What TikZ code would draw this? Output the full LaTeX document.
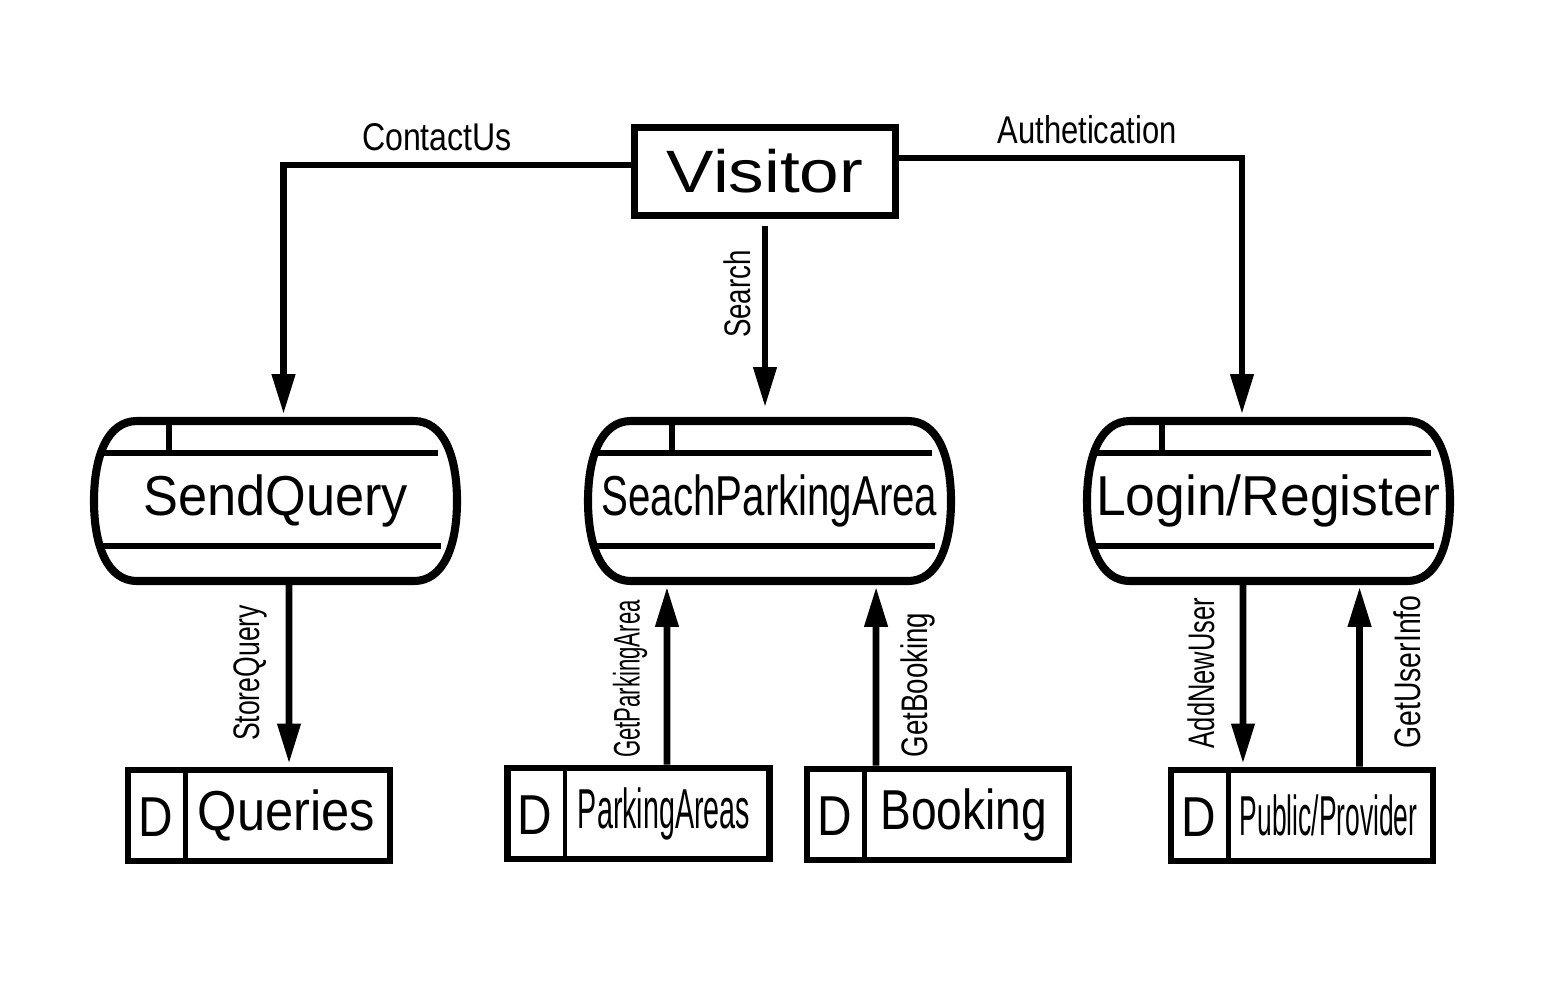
\documentclass[tikz,border=0pt]{standalone}
\usepackage{fontspec}
\setmainfont{Liberation Sans}
\usepackage{graphicx}
\usepackage{tikz}
\usetikzlibrary{arrows.meta,calc}

\newcommand{\squeeze}[2]{\scalebox{#1}[1]{#2}}

\begin{document}
\begin{tikzpicture}[x=0.01cm,y=-0.01cm,>={Triangle[length=11.4pt,width=6.3pt]}]
    \tikzstyle{actor}=[draw, line width=2pt, rectangle, minimum width=2.61cm, minimum height=0.88cm, inner sep=0pt, font=\fontsize{17}{20}\selectfont]
    \tikzstyle{proc}=[rectangle, minimum width=3.63cm, minimum height=1.6cm, inner sep=0pt, font=\fontsize{16}{19}\selectfont]
    \tikzstyle{store}=[draw, line width=1.9pt, rectangle, minimum width=2.62cm, minimum height=0.91cm, inner sep=0pt]
    \tikzstyle{stext}=[font=\fontsize{16}{19}\selectfont, inner sep=0pt]
    \tikzstyle{flow}=[->, line width=1.9pt]
    \tikzstyle{flowlabel}=[font=\fontsize{10.5}{12}\selectfont, inner sep=0pt]
    \tikzstyle{toplabel}=[font=\fontsize{11}{13}\selectfont, inner sep=0pt]

    \useasboundingbox (0,0) rectangle (1543,981);

    % external entity and processes
    \node[actor] (vis) at (765,171.5)  {\squeeze{1.19}{Visitor}};
    \node[proc]  (sq)  at (275.5,501)  {\squeeze{0.93}{SendQuery}};
    \node[proc]  (spa) at (769.5,501)  {\squeeze{0.715}{SeachParkingArea}};
    \node[proc]  (lr)  at (1268.5,501) {\squeeze{0.95}{Login/Register}};

    \foreach \p/\t in {sq/-106.5, spa/-97.5, lr/-106.5} {
      \draw[line width=1.9pt] ($(\p)+(-176,-48)$) -- ($(\p)+(162,-48)$);
      \draw[line width=1.9pt] ($(\p)+(-174,45)$) -- ($(\p)+(165,45)$);
      \draw[line width=1.6pt] ($(\p)+(\t,-78)$) -- ($(\p)+(\t,-48)$);
      \draw[line width=2.3pt] ($(\p)+(-138.5,-80)$) -- ($(\p)+(138.5,-80)$)
        .. controls ($(\p)+(168,-80)$) and ($(\p)+(181.5,-45)$) .. ($(\p)+(181.5,0)$)
        .. controls ($(\p)+(181.5,45)$) and ($(\p)+(168,80)$) .. ($(\p)+(138.5,80)$)
        -- ($(\p)+(-138.5,80)$)
        .. controls ($(\p)+(-168,80)$) and ($(\p)+(-181.5,45)$) .. ($(\p)+(-181.5,0)$)
        .. controls ($(\p)+(-181.5,-45)$) and ($(\p)+(-168,-80)$) .. ($(\p)+(-138.5,-80)$) -- cycle;
    }

    % data stores
    \node[store] (qs) at (259,815.5)   {};
    \node[store] (pa) at (638.5,813.5) {};
    \node[store] (bk) at (938,814.5)   {};
    \node[store] (pp) at (1302,815.5)  {};
    \foreach \s in {qs,pa,bk,pp} {
      \draw[line width=1.2pt] ($(\s.north west)+(61,0)$) -- ($(\s.south west)+(61,0)$);
      \node[stext] (\s-d) at ($(\s.west)+(31,2)$) {\squeeze{0.85}{D}};
    }
    \node[stext] (qs-t) at ($(qs.west)+(162,0)$) {\squeeze{0.9}{Queries}};
    \node[stext] (pa-t) at ($(pa.west)+(160,0)$) {\squeeze{0.51}{ParkingAreas}};
    \node[stext] (bk-t) at ($(bk.west)+(160,0)$) {\squeeze{0.82}{Booking}};
    \node[stext] (pp-t) at ($(pp.west)+(161,0)$) {\squeeze{0.47}{Public/Provider}};

    % flows
    \draw[flow, shorten >=0.06cm] ([yshift=0.065cm]vis.west) -| ([xshift=0.08cm]sq.north);
    \draw[flow, shorten >=0.06cm] ([yshift=0.135cm]vis.east) -| ([xshift=-0.265cm]lr.north);
    \path
     (vis.south) edge[flow, shorten <=0.07cm, shorten >=0.13cm] (vis.south |- spa.north)
     ([xshift=0.135cm]sq.south)  edge[flow, shorten >=0.03cm] ([xshift=0.30cm]qs.north)
     ([xshift=0.285cm]pa.north)  edge[flow, shorten >=0.05cm] ([xshift=-1.025cm]spa.south)
     ([xshift=-0.62cm]bk.north)  edge[flow, shorten >=0.05cm] ([xshift=1.065cm]spa.south)
     ([xshift=-0.255cm]lr.south) edge[flow, shorten >=0.03cm] ([xshift=-0.59cm]pp.north)
     ([xshift=0.575cm]pp.north)  edge[flow, shorten >=0.05cm] ([xshift=0.91cm]lr.south)
     ;

    % flow labels
    \node[toplabel] (l-contact) at (437,137.5) {\squeeze{0.83}{ContactUs}};
    \node[toplabel] (l-auth)    at (1087,130)  {\squeeze{0.80}{Authetication}};
    \node[flowlabel, rotate=90] (l-search) at (737,294)  {\squeeze{0.75}{Search}};
    \node[flowlabel, rotate=90] (l-store)  at (250,673)  {\squeeze{0.72}{StoreQuery}};
    \node[flowlabel, rotate=90] (l-getpa)  at (630,679)  {\squeeze{0.60}{GetParkingArea}};
    \node[flowlabel, rotate=90] (l-getbk)  at (918,685)  {\squeeze{0.75}{GetBooking}};
    \node[flowlabel, rotate=90] (l-add)    at (1201,673) {\squeeze{0.69}{AddNewUser}};
    \node[flowlabel, rotate=90] (l-getui)  at (1407,672) {\squeeze{0.77}{GetUserInfo}};
\end{tikzpicture}
\end{document}
